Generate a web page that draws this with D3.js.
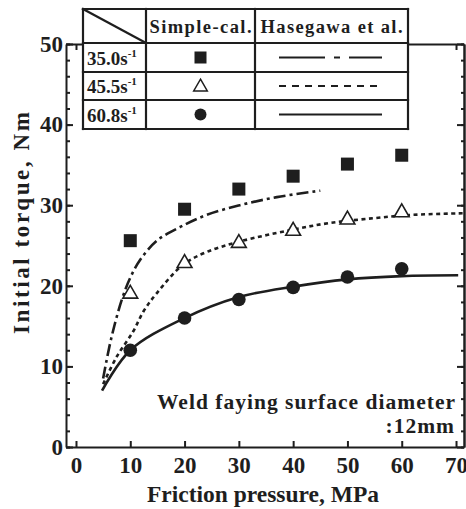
<!DOCTYPE html>
<html>
<head>
<meta charset="utf-8">
<script src="https://cdn.jsdelivr.net/npm/d3@7"></script>
<style>
    body { margin: 0; background: #fff; }
    svg { font-family: "Liberation Serif", "Times New Roman", serif; font-weight: bold; }
</style>
</head>
<body>
<div id="chart"></div>
<script>
// data
const pressure = [10, 20, 30, 40, 50, 60]
const simple35 = [25.6, 29.5, 32.0, 33.6, 35.1, 36.2]
const simple45 = [19.0, 22.8, 25.3, 26.8, 28.2, 29.1]
const simple60 = [12.0, 16.0, 18.3, 19.8, 21.1, 22.1]

const hasegawa35 = [[5, 8.5], [6.5, 13.5], [8.5, 18.4], [10, 21.0], [11.8, 23.2], [14.9, 25.6], [19.2, 27.3], [24.1, 28.8], [30.2, 30.0], [37, 31.0], [45, 31.8]]
const hasegawa45 = [[5, 7.8], [7.5, 11.2], [10.5, 14.3], [12.5, 16.9], [14.9, 19.1], [19.7, 22.6], [24.1, 24.2], [30.2, 25.5], [39.4, 26.9], [46.8, 27.8], [55, 28.4], [62, 28.8], [71.5, 29.0]]
const hasegawa60 = [[4.8, 7.0], [10, 12.0], [19.7, 15.9], [30, 18.6], [40, 19.9], [50, 20.8], [60, 21.2], [70.4, 21.3]]

const rates = ['35.0', '45.5', '60.8']
const xTicks = [0, 10, 20, 30, 40, 50, 60, 70]
const yTicks = [0, 10, 20, 30, 40, 50]
const yMinor = d3.range(0, 51, 2)

const dim = { width: 466, height: 509 }
const margin = { top: 44, right: 2, bottom: 62, left: 66 }
const ink = '#1e1e1e'

const svg = d3.select('#chart')
    .append('svg')
        .attr('width', dim.width)
        .attr('height', dim.height)

// scales
const xScale = d3.scaleLinear()
    .domain([-1.84, 71.47])
    .range([margin.left, dim.width - margin.right])

const yScale = d3.scaleLinear()
    .domain([0, 50])
    .range([dim.height - margin.bottom, margin.top])

// axes
function styleAxis(g) {
    g.attr('font-family', null).attr('font-size', null)
    g.selectAll('path, line').attr('stroke', ink).attr('stroke-width', 2)
    g.selectAll('text').attr('fill', ink).attr('font-size', 23)
}

svg.append('g')
    .attr('transform', `translate(0,${yScale(0)})`)
    .call(d3.axisBottom(xScale).tickValues(xTicks).tickSize(-6).tickSizeOuter(0).tickPadding(10))
    .call(styleAxis)

svg.append('g')
    .attr('transform', `translate(0,${yScale(50)})`)
    .call(d3.axisTop(xScale).tickValues(xTicks).tickSize(-6).tickSizeOuter(0).tickFormat(''))
    .call(styleAxis)

svg.append('g')
    .attr('transform', `translate(${xScale.range()[0]},0)`)
    .call(d3.axisLeft(yScale).tickValues(yMinor).tickSize(-4).tickSizeOuter(0).tickFormat(''))
    .call(styleAxis)

svg.append('g')
    .attr('transform', `translate(${xScale.range()[0]},0)`)
    .call(d3.axisLeft(yScale).tickValues(yTicks).tickSize(-7).tickSizeOuter(0).tickPadding(3))
    .call(styleAxis)
    .call(g => g.select('.domain').remove())

svg.append('g')
    .attr('transform', `translate(${xScale.range()[1]},0)`)
    .call(d3.axisRight(yScale).tickValues(yMinor).tickSize(-3).tickSizeOuter(0).tickFormat(''))
    .call(styleAxis)

svg.append('g')
    .attr('transform', `translate(${xScale.range()[1]},0)`)
    .call(d3.axisRight(yScale).tickValues(yTicks).tickSize(-7).tickSizeOuter(0).tickFormat(''))
    .call(styleAxis)

// axis titles
svg.append('text')
    .attr('x', 263).attr('y', 502)
    .attr('text-anchor', 'middle')
    .attr('font-size', 23.5)
    .attr('fill', ink)
    .text('Friction pressure, MPa')

svg.append('text')
    .attr('transform', 'translate(29,223) rotate(-90)')
    .attr('text-anchor', 'middle')
    .attr('font-size', 23)
    .attr('textLength', 222)
    .attr('fill', ink)
    .text('Initial torque, Nm')

// Hasegawa curves
const line = d3.line()
    .x(d => xScale(d[0]))
    .y(d => yScale(d[1]))
    .curve(d3.curveCatmullRom.alpha(0.5))

const curves = [
    { data: hasegawa35, dash: '12,4,3,4' },
    { data: hasegawa45, dash: '4,3.5' },
    { data: hasegawa60, dash: null }
]

svg.append('g')
    .selectAll('path')
    .data(curves)
    .join('path')
        .attr('d', d => line(d.data))
        .attr('fill', 'none')
        .attr('stroke', ink)
        .attr('stroke-width', 2.6)
        .attr('stroke-dasharray', d => d.dash)

// simple-cal markers
const markers = svg.append('g')

markers.selectAll('rect')
    .data(simple35)
    .join('rect')
        .attr('x', (d, i) => xScale(pressure[i]) - 6.5)
        .attr('y', d => yScale(d) - 6.5)
        .attr('width', 13)
        .attr('height', 13)
        .attr('fill', ink)

const tri = d3.symbol().type(d3.symbolTriangle).size(95)

markers.selectAll('.tri')
    .data(simple45)
    .join('path')
        .attr('class', 'tri')
        .attr('transform', (d, i) => `translate(${xScale(pressure[i])},${yScale(d)})`)
        .attr('d', tri)
        .attr('fill', '#fff')
        .attr('stroke', ink)
        .attr('stroke-width', 1.6)

markers.selectAll('circle')
    .data(simple60)
    .join('circle')
        .attr('cx', (d, i) => xScale(pressure[i]))
        .attr('cy', d => yScale(d))
        .attr('r', 6.8)
        .attr('fill', ink)

// annotation
svg.append('text')
    .attr('x', 455).attr('y', 409)
    .attr('text-anchor', 'end')
    .attr('font-size', 21.5)
    .attr('textLength', 298)
    .attr('fill', ink)
    .text('Weld faying surface diameter')

svg.append('text')
    .attr('x', 455).attr('y', 433)
    .attr('text-anchor', 'end')
    .attr('font-size', 21.5)
    .attr('letter-spacing', 1)
    .attr('fill', ink)
    .text(':12mm')

// legend table
const colX = [83, 146, 255, 408]
const rowY = [9, 43, 72, 100, 129]
const table = svg.append('g')

table.append('rect')
    .attr('x', colX[0]).attr('y', rowY[0])
    .attr('width', colX[3] - colX[0]).attr('height', rowY[4] - rowY[0])
    .attr('fill', '#fff')

table.selectAll('.vline')
    .data(colX)
    .join('line')
        .attr('x1', d => d).attr('x2', d => d)
        .attr('y1', rowY[0]).attr('y2', rowY[4])

table.selectAll('.hline')
    .data(rowY)
    .join('line')
        .attr('x1', colX[0]).attr('x2', colX[3])
        .attr('y1', d => d).attr('y2', d => d)

table.append('line')
    .attr('x1', colX[0]).attr('y1', rowY[0])
    .attr('x2', colX[1]).attr('y2', rowY[1])

table.selectAll('line')
    .attr('stroke', ink)
    .attr('stroke-width', 2.2)
    .attr('stroke-linecap', 'square')

table.append('text')
    .attr('x', (colX[1] + colX[2]) / 2).attr('y', 33)
    .attr('text-anchor', 'middle')
    .attr('font-size', 18.5)
    .attr('textLength', 102)
    .attr('fill', ink)
    .text('Simple-cal.')

table.append('text')
    .attr('x', (colX[2] + colX[3]) / 2).attr('y', 33)
    .attr('text-anchor', 'middle')
    .attr('font-size', 18.5)
    .attr('textLength', 142)
    .attr('fill', ink)
    .text('Hasegawa et al.')

const rows = table.selectAll('.row')
    .data(rates)
    .join('g')
        .attr('transform', (d, i) => `translate(0,${(rowY[i + 1] + rowY[i + 2]) / 2})`)

const rowLabel = rows.append('text')
    .attr('x', colX[0] + 4).attr('y', 7)
    .attr('font-size', 19)
    .attr('fill', ink)

rowLabel.append('tspan').text(d => d + 's')
rowLabel.append('tspan')
    .attr('font-size', 11)
    .attr('dy', -8)
    .text('-1')

const cx = (colX[1] + colX[2]) / 2

rows.filter((d, i) => i === 0).append('rect')
    .attr('x', cx - 6).attr('y', -6)
    .attr('width', 12).attr('height', 12)
    .attr('fill', ink)

rows.filter((d, i) => i === 1).append('path')
    .attr('transform', `translate(${cx},1)`)
    .attr('d', d3.symbol().type(d3.symbolTriangle).size(80))
    .attr('fill', '#fff')
    .attr('stroke', ink)
    .attr('stroke-width', 1.5)

rows.filter((d, i) => i === 2).append('circle')
    .attr('cx', cx).attr('cy', 0).attr('r', 6)
    .attr('fill', ink)

rows.append('line')
    .attr('x1', 279).attr('x2', 382)
    .attr('y1', 0).attr('y2', 0)
    .attr('stroke', ink)
    .attr('stroke-width', 2.2)
    .attr('stroke-dasharray', (d, i) => curves[i].dash ? (i === 0 ? '46,9,6,9,46' : '7,6') : null)
</script>
</body>
</html>
